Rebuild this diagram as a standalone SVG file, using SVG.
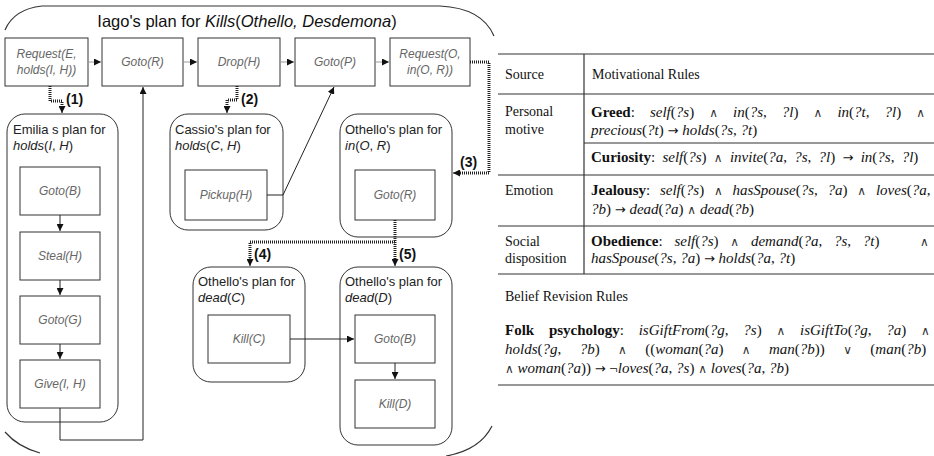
<svg xmlns="http://www.w3.org/2000/svg" width="934" height="456" viewBox="0 0 934 456">
  <style>
    .frame { fill: none; stroke: #333; stroke-width: 1.2; }
    .box { fill: #fff; stroke: #333; stroke-width: 1; }
    .plan { fill: #fff; stroke: #333; stroke-width: 1; }
    .btxt { font-family: "Liberation Sans", Arial, sans-serif; font-size: 12px; font-style: italic; fill: #666; text-anchor: middle; }
    .ptxt { font-family: "Liberation Sans", Arial, sans-serif; font-size: 13px; fill: #222; }
    .pit { font-style: italic; }
    .lbl { font-family: "Liberation Sans", Arial, sans-serif; font-size: 14px; font-weight: bold; fill: #111; }
    .ttl { font-family: "Liberation Sans", Arial, sans-serif; font-size: 16.5px; fill: #111; }
    .flow { fill: none; stroke: #999; stroke-width: 1; }
    .link { fill: none; stroke: #222; stroke-width: 1; }
    .dash { fill: none; stroke: #222; stroke-width: 3; stroke-dasharray: 1 1; }
    .rule { stroke: #333; stroke-width: 1.2; }
    .tt { font-family: "Liberation Serif", "Times New Roman", serif; font-size: 14px; fill: #111; }
    .fx { font-size: 15px; }
    .b { font-weight: bold; }
    .i { font-style: italic; }
    .op { font-family: "DejaVu Sans", sans-serif; font-size: 12px; fill: #333; }
    .arr { font-family: "DejaVu Sans", sans-serif; font-size: 13px; fill: #111; }
  </style>
  <defs>
    <marker id="ah" viewBox="0 0 8 8" refX="8" refY="4" markerWidth="7" markerHeight="7" markerUnits="userSpaceOnUse" orient="auto">
      <path d="M0,0 L8,4 L0,8 z" fill="#111"/>
    </marker>
  </defs>

  <rect width="934" height="456" fill="#fff"/>

  <!-- outer plan frame: top edge and rounded corners -->
  <g id="iago-frame">
    <path class="frame" d="M5,30 Q14,9 42,6 L440,6 Q482,8 494,36"/>
    <path class="frame" d="M5,432 Q18,447 40,453"/>
    <path class="frame" d="M492,426 Q480,450 446,456"/>
    <text class="ttl" x="247" y="27" text-anchor="middle">Iago's plan for <tspan font-style="italic">Kills</tspan>(<tspan font-style="italic">Othello, Desdemona</tspan>)</text>
  </g>

  <!-- top row actions -->
  <g id="req-e">
    <rect class="box" x="5" y="38" width="83" height="48"/>
    <text class="btxt" x="46.5" y="58">Request(E,</text>
    <text class="btxt" x="46.5" y="74">holds(I, H))</text>
  </g>
  <g id="goto-r">
    <rect class="box" x="102" y="38" width="81" height="48"/>
    <text class="btxt" x="142.5" y="66">Goto(R)</text>
  </g>
  <g id="drop-h">
    <rect class="box" x="198" y="38" width="82" height="48"/>
    <text class="btxt" x="239" y="66">Drop(H)</text>
  </g>
  <g id="goto-p">
    <rect class="box" x="295" y="38" width="80" height="48"/>
    <text class="btxt" x="335" y="66">Goto(P)</text>
  </g>
  <g id="req-o">
    <rect class="box" x="390" y="38" width="80" height="48"/>
    <text class="btxt" x="430" y="58">Request(O,</text>
    <text class="btxt" x="430" y="74">in(O, R))</text>
  </g>

  <!-- Emilia's sub-plan -->
  <g id="emilia">
    <rect class="plan" x="7" y="114" width="111" height="308" rx="18"/>
    <text class="ptxt" x="13" y="134">Emilia s plan for</text>
    <text class="ptxt" x="13" y="150"><tspan class="pit">holds</tspan>(<tspan class="pit">I</tspan>, <tspan class="pit">H</tspan>)</text>
  </g>
  <g id="e-goto-b">
    <rect class="box" x="20" y="167" width="80" height="48"/>
    <text class="btxt" x="60" y="195">Goto(B)</text>
  </g>
  <g id="e-steal">
    <rect class="box" x="20" y="232" width="80" height="48"/>
    <text class="btxt" x="60" y="260">Steal(H)</text>
  </g>
  <g id="e-goto-g">
    <rect class="box" x="20" y="296" width="80" height="48"/>
    <text class="btxt" x="60" y="324">Goto(G)</text>
  </g>
  <g id="e-give">
    <rect class="box" x="20" y="360" width="80" height="48"/>
    <text class="btxt" x="60" y="388">Give(I, H)</text>
  </g>

  <!-- Cassio's sub-plan -->
  <g id="cassio">
    <rect class="plan" x="170" y="114" width="113" height="116" rx="18"/>
    <text class="ptxt" x="175" y="134">Cassio's plan for</text>
    <text class="ptxt" x="175" y="150"><tspan class="pit">holds</tspan>(<tspan class="pit">C</tspan>, <tspan class="pit">H</tspan>)</text>
  </g>
  <g id="c-pickup">
    <rect class="box" x="185" y="170" width="82" height="50"/>
    <text class="btxt" x="226" y="199">Pickup(H)</text>
  </g>

  <!-- Othello's sub-plan for in(O, R) -->
  <g id="othello-in">
    <rect class="plan" x="340" y="114" width="112" height="123" rx="18"/>
    <text class="ptxt" x="345" y="134">Othello's plan for</text>
    <text class="ptxt" x="345" y="150"><tspan class="pit">in</tspan>(<tspan class="pit">O</tspan>, <tspan class="pit">R</tspan>)</text>
  </g>
  <g id="o-goto-r">
    <rect class="box" x="355" y="170" width="80" height="50"/>
    <text class="btxt" x="395" y="199">Goto(R)</text>
  </g>

  <!-- Othello's sub-plan for dead(C) -->
  <g id="othello-dead-c">
    <rect class="plan" x="193" y="267" width="112" height="115" rx="18"/>
    <text class="ptxt" x="198" y="286">Othello's plan for</text>
    <text class="ptxt" x="198" y="302"><tspan class="pit">dead</tspan>(<tspan class="pit">C</tspan>)</text>
  </g>
  <g id="o-kill-c">
    <rect class="box" x="208" y="315" width="82" height="48"/>
    <text class="btxt" x="249" y="343">Kill(C)</text>
  </g>

  <!-- Othello's sub-plan for dead(D) -->
  <g id="othello-dead-d">
    <rect class="plan" x="340" y="267" width="112" height="178" rx="18"/>
    <text class="ptxt" x="345" y="286">Othello's plan for</text>
    <text class="ptxt" x="345" y="302"><tspan class="pit">dead</tspan>(<tspan class="pit">D</tspan>)</text>
  </g>
  <g id="o-goto-b">
    <rect class="box" x="355" y="315" width="80" height="48"/>
    <text class="btxt" x="395" y="343">Goto(B)</text>
  </g>
  <g id="o-kill-d">
    <rect class="box" x="355" y="380" width="80" height="48"/>
    <text class="btxt" x="395" y="408">Kill(D)</text>
  </g>

  <!-- connectors -->
  <g id="connectors">
    <path class="flow" d="M88,62 H101" marker-end="url(#ah)"/>
    <path class="flow" d="M183,62 H197" marker-end="url(#ah)"/>
    <path class="flow" d="M280,62 H294" marker-end="url(#ah)"/>
    <path class="flow" d="M375,62 H389" marker-end="url(#ah)"/>

    <path class="link" d="M60,215 V231" marker-end="url(#ah)"/>
    <path class="link" d="M60,280 V295" marker-end="url(#ah)"/>
    <path class="link" d="M60,344 V359" marker-end="url(#ah)"/>
    <path class="link" d="M60,408 V440 H143 V87" marker-end="url(#ah)"/>
    <path class="link" d="M267,195 H283 L334,87" marker-end="url(#ah)"/>
    <path class="link" d="M290,339 H354" marker-end="url(#ah)"/>
    <path class="link" d="M395,363 V379" marker-end="url(#ah)"/>

    <path class="dash" d="M50,86 V101 H62 V107"/>
    <path class="link" d="M62,106 V113" marker-end="url(#ah)"/>
    <path class="dash" d="M237,86 V100 H227 V107"/>
    <path class="link" d="M227,106 V113" marker-end="url(#ah)"/>
    <path class="dash" d="M470,62 H489 V173 H460"/>
    <path class="link" d="M461,173 H453" marker-end="url(#ah)"/>
    <path class="dash" d="M395,220 V242 H250 V259"/>
    <path class="link" d="M250,258 V266" marker-end="url(#ah)"/>
    <path class="dash" d="M395,242 V259"/>
    <path class="link" d="M395,258 V266" marker-end="url(#ah)"/>

    <text class="lbl" x="66" y="104">(1)</text>
    <text class="lbl" x="241" y="104">(2)</text>
    <text class="lbl" x="460" y="167">(3)</text>
    <text class="lbl" x="254" y="259">(4)</text>
    <text class="lbl" x="399" y="259">(5)</text>
  </g>

  <!-- rules table -->
  <g id="rules-table">
    <line class="rule" x1="498" y1="54" x2="934" y2="54"/>
    <line class="rule" x1="498" y1="94" x2="934" y2="94"/>
    <line class="rule" x1="584" y1="143" x2="934" y2="143"/>
    <line class="rule" x1="498" y1="175" x2="934" y2="175"/>
    <line class="rule" x1="498" y1="226" x2="934" y2="226"/>
    <line class="rule" x1="498" y1="274" x2="934" y2="274"/>
    <line class="rule" x1="498" y1="385" x2="934" y2="385"/>
    <line class="rule" x1="584" y1="54" x2="584" y2="274"/>

    <text class="tt" x="505" y="79">Source</text>
    <text class="tt" x="592" y="79">Motivational Rules</text>

    <text class="tt" x="505" y="116">Personal</text>
    <text class="tt" x="505" y="134">motive</text>
    <text class="tt fx" x="591" y="117" word-spacing="11.3"><tspan class="b">Greed</tspan>: <tspan class="i">self</tspan>(<tspan class="i">?s</tspan>) <tspan class="op">∧</tspan> <tspan class="i">in</tspan>(<tspan class="i">?s</tspan>, <tspan class="i">?l</tspan>) <tspan class="op">∧</tspan> <tspan class="i">in</tspan>(<tspan class="i">?t</tspan>, <tspan class="i">?l</tspan>) <tspan class="op">∧</tspan></text>
    <text class="tt fx" x="591" y="135"><tspan class="i">precious</tspan>(<tspan class="i">?t</tspan>) <tspan class="arr">→</tspan> <tspan class="i">holds</tspan>(<tspan class="i">?s</tspan>, <tspan class="i">?t</tspan>)</text>
    <text class="tt fx" x="591" y="162" word-spacing="3.5"><tspan class="b">Curiosity</tspan>: <tspan class="i">self</tspan>(<tspan class="i">?s</tspan>) <tspan class="op">∧</tspan> <tspan class="i">invite</tspan>(<tspan class="i">?a</tspan>, <tspan class="i">?s</tspan>, <tspan class="i">?l</tspan>) <tspan class="arr">→</tspan> <tspan class="i">in</tspan>(<tspan class="i">?s</tspan>, <tspan class="i">?l</tspan>)</text>

    <text class="tt" x="505" y="195">Emotion</text>
    <text class="tt fx" x="591" y="195" word-spacing="6"><tspan class="b">Jealousy</tspan>: <tspan class="i">self</tspan>(<tspan class="i">?s</tspan>) <tspan class="op">∧</tspan> <tspan class="i">hasSpouse</tspan>(<tspan class="i">?s</tspan>, <tspan class="i">?a</tspan>) <tspan class="op">∧</tspan> <tspan class="i">loves</tspan>(<tspan class="i">?a</tspan>,</text>
    <text class="tt fx" x="591" y="214"><tspan class="i">?b</tspan>) <tspan class="arr">→</tspan> <tspan class="i">dead</tspan>(<tspan class="i">?a</tspan>) <tspan class="op">∧</tspan> <tspan class="i">dead</tspan>(<tspan class="i">?b</tspan>)</text>

    <text class="tt" x="505" y="246">Social</text>
    <text class="tt" x="505" y="263">disposition</text>
    <text class="tt fx" x="591" y="246" word-spacing="8"><tspan class="b">Obedience</tspan>: <tspan class="i">self</tspan>(<tspan class="i">?s</tspan>) <tspan class="op">∧</tspan> <tspan class="i">demand</tspan>(<tspan class="i">?a</tspan>, <tspan class="i">?s</tspan>, <tspan class="i">?t</tspan>)</text>
    <text class="tt fx" x="920" y="246"><tspan class="op">∧</tspan></text>
    <text class="tt fx" x="591" y="263"><tspan class="i">hasSpouse</tspan>(<tspan class="i">?s</tspan>, <tspan class="i">?a</tspan>) <tspan class="arr">→</tspan> <tspan class="i">holds</tspan>(<tspan class="i">?a</tspan>, <tspan class="i">?t</tspan>)</text>

    <text class="tt" x="505" y="301">Belief Revision Rules</text>
    <text class="tt fx" x="505" y="335" word-spacing="11"><tspan class="b">Folk psychology</tspan>: <tspan class="i">isGiftFrom</tspan>(<tspan class="i">?g</tspan>, <tspan class="i">?s</tspan>) <tspan class="op">∧</tspan> <tspan class="i">isGiftTo</tspan>(<tspan class="i">?g</tspan>, <tspan class="i">?a</tspan>) <tspan class="op">∧</tspan></text>
    <text class="tt fx" x="505" y="354" word-spacing="14.6"><tspan class="i">holds</tspan>(<tspan class="i">?g</tspan>, <tspan class="i">?b</tspan>) <tspan class="op">∧</tspan> ((<tspan class="i">woman</tspan>(<tspan class="i">?a</tspan>) <tspan class="op">∧</tspan> <tspan class="i">man</tspan>(<tspan class="i">?b</tspan>)) <tspan class="op">∨</tspan> (<tspan class="i">man</tspan>(<tspan class="i">?b</tspan>)</text>
    <text class="tt fx" x="505" y="373"><tspan class="op">∧</tspan> <tspan class="i">woman</tspan>(<tspan class="i">?a</tspan>)) <tspan class="arr">→</tspan> ¬<tspan class="i">loves</tspan>(<tspan class="i">?a</tspan>, <tspan class="i">?s</tspan>) <tspan class="op">∧</tspan> <tspan class="i">loves</tspan>(<tspan class="i">?a</tspan>, <tspan class="i">?b</tspan>)</text>
  </g>
</svg>
